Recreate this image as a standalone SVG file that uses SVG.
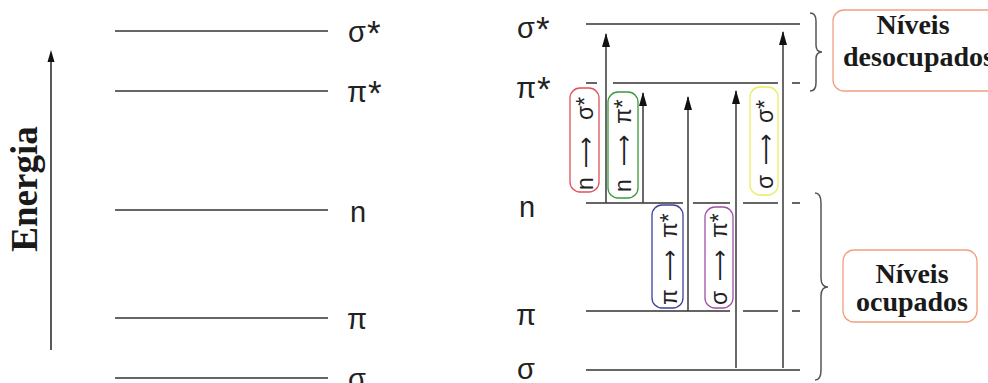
<svg xmlns="http://www.w3.org/2000/svg" width="988" height="383" viewBox="0 0 988 383">
<defs>
<style>
.lvl{stroke:#333;stroke-width:1.5;fill:none}
.lab{font-family:"Liberation Sans",Arial,sans-serif;font-size:29px;fill:#222}
.st{font-size:35px}
.tr{font-family:"Liberation Sans","DejaVu Sans",sans-serif;font-size:23px;fill:#222}
.la{font-family:"DejaVu Sans",sans-serif;font-size:22px}
.ser{font-family:"Liberation Serif","Times New Roman",serif;font-weight:bold;fill:#1a1a1a}
.arr{stroke:#444;stroke-width:1.6;fill:none;marker-end:url(#ah)}
.br{stroke:#555;stroke-width:1.5;fill:none}
.box{fill:none;stroke-width:1.3}
</style>
<marker id="ah" markerWidth="14" markerHeight="8" refX="13" refY="4" orient="auto" markerUnits="userSpaceOnUse" viewBox="0 0 14 8">
<path d="M0,0 L14,4 L0,8 Z" fill="#111"/>
</marker>
</defs>

<g id="energy-axis">
<line x1="51" y1="350" x2="51" y2="62" stroke="#222" stroke-width="1.5"/>
<path d="M47.5,62 L51,50 L54.5,62 Z" fill="#111"/>
<text class="ser" font-size="37" transform="translate(37,189) rotate(-90)" text-anchor="middle">Energia</text>
</g>

<g id="left-levels">
<line class="lvl" x1="115" y1="31" x2="328" y2="31"/>
<line class="lvl" x1="115" y1="91" x2="328" y2="91"/>
<line class="lvl" x1="115" y1="210" x2="328" y2="210"/>
<line class="lvl" x1="115" y1="318" x2="328" y2="318"/>
<line class="lvl" x1="115" y1="378" x2="328" y2="378"/>
<text class="lab" x="348" y="42">σ<tspan class="st" dx="1" dy="3">*</tspan></text>
<text class="lab" x="347" y="102">π<tspan class="st" dx="1" dy="3">*</tspan></text>
<text class="lab" x="350" y="222">n</text>
<text class="lab" x="347" y="329">π</text>
<text class="lab" x="348" y="389">σ</text>
</g>

<g id="right-levels">
<line class="lvl" x1="586" y1="24" x2="800" y2="24"/>
<path class="lvl" d="M586,83 H597 M613,83 H778 M792,83 H800"/>
<path class="lvl" d="M586,203 H683 M693,203 H730 M743,203 H778 M792,203 H800"/>
<path class="lvl" d="M586,311 H730 M743,311 H778 M792,311 H800"/>
<line class="lvl" x1="586" y1="370" x2="800" y2="370"/>
<text class="lab" x="517" y="38">σ<tspan class="st" dx="1" dy="3">*</tspan></text>
<text class="lab" x="516" y="98">π<tspan class="st" dx="1" dy="3">*</tspan></text>
<text class="lab" x="519" y="217">n</text>
<text class="lab" x="516" y="325">π</text>
<text class="lab" x="517" y="379">σ</text>
</g>

<g id="connectors">
<line class="arr" x1="606" y1="203" x2="606" y2="34"/>
<line class="arr" x1="643" y1="203" x2="643" y2="93"/>
<line class="arr" x1="688" y1="311" x2="688" y2="97"/>
<line class="arr" x1="736" y1="368" x2="736" y2="91"/>
<line class="arr" x1="783" y1="368" x2="783" y2="32"/>
</g>

<g id="t-n-sigma">
<rect class="box" x="570" y="88" width="29" height="104" rx="10" stroke="#e0505a"/>
<text class="tr" transform="translate(593,190) rotate(-90)"><tspan x="0">n</tspan><tspan class="la" x="22">⟶</tspan><tspan x="70">σ*</tspan></text>
</g>
<g id="t-n-pi">
<rect class="box" x="608" y="92" width="30" height="106" rx="10" stroke="#3a9a3a"/>
<text class="tr" transform="translate(631,192) rotate(-90)"><tspan x="0">n</tspan><tspan class="la" x="26">⟶</tspan><tspan x="68">π*</tspan></text>
</g>
<g id="t-sigma-sigma">
<rect class="box" x="750" y="87" width="28" height="108" rx="10" stroke="#ecec60"/>
<text class="tr" transform="translate(773,189) rotate(-90)"><tspan x="0">σ</tspan><tspan class="la" x="24">⟶</tspan><tspan x="66">σ*</tspan></text>
</g>
<g id="t-pi-pi">
<rect class="box" x="652" y="205" width="31" height="103" rx="10" stroke="#40409a"/>
<text class="tr" transform="translate(677,305) rotate(-90)"><tspan x="0">π</tspan><tspan class="la" x="24">⟶</tspan><tspan x="67">π*</tspan></text>
</g>
<g id="t-sigma-pi">
<rect class="box" x="705" y="207" width="28" height="101" rx="10" stroke="#a050a8"/>
<text class="tr" transform="translate(727,305) rotate(-90)"><tspan x="0">σ</tspan><tspan class="la" x="24">⟶</tspan><tspan x="67">π*</tspan></text>
</g>

<g id="brace-unoccupied">
<path class="br" d="M810,13 Q816,13 816,21 L816,45 Q816,52 822,52 Q816,52 816,59 L816,83 Q816,91 810,91"/>
</g>
<g id="brace-occupied">
<path class="br" d="M815,193 Q821,193 821,203 L821,278 Q821,287 828,287 Q821,287 821,296 L821,370 Q821,380 815,380"/>
</g>

<g id="label-unoccupied">
<rect x="833" y="10" width="170" height="81" rx="11" fill="#fff" stroke="#f0a080" stroke-width="1.3"/>
<text class="ser" font-size="28" x="913" y="34" text-anchor="middle">Níveis</text>
<text class="ser" font-size="28" x="843" y="66">desocupados</text>
</g>
<g id="label-occupied">
<rect x="843" y="250" width="134" height="72" rx="11" fill="#fff" stroke="#f0a080" stroke-width="1.3"/>
<text class="ser" font-size="28" x="912" y="283" text-anchor="middle">Níveis</text>
<text class="ser" font-size="28" x="912" y="311" text-anchor="middle">ocupados</text>
</g>
</svg>
